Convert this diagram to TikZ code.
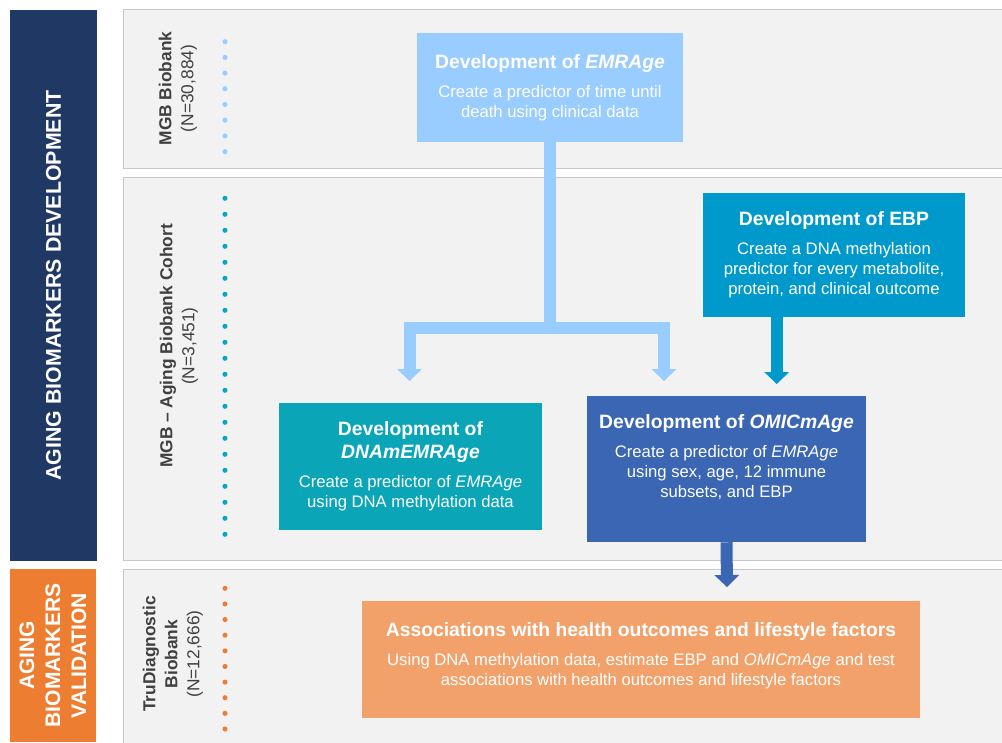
\documentclass[tikz,border=0pt]{standalone}
\usepackage{fontspec}
\setmainfont{Liberation Sans}
\usetikzlibrary{arrows.meta}

\definecolor{navyband}{HTML}{203864}
\definecolor{orangeband}{HTML}{ED7D31}
\definecolor{panelgray}{HTML}{F2F2F2}
\definecolor{panelline}{HTML}{C8C8C8}
\definecolor{emrblue}{HTML}{99CCFF}
\definecolor{ebpblue}{HTML}{0099CC}
\definecolor{dnamteal}{HTML}{0AA6B8}
\definecolor{omicblue}{HTML}{3A66B3}
\definecolor{assocorange}{HTML}{F2A16B}
\definecolor{labelgray}{HTML}{404040}

\newcommand{\titlef}{\fontsize{14.5}{17}\selectfont\bfseries}

\begin{document}
\begin{tikzpicture}[x=0.75pt,y=-0.75pt,
  stage/.style={rectangle,text=white,align=center,inner sep=0pt,
    font=\fontsize{12.5}{15}\selectfont},
  band/.style={rectangle,rotate=90,text=white,align=center,inner sep=0pt,
    font=\fontsize{16}{19.5}\selectfont\bfseries},
  panel/.style={fill=panelgray,draw=panelline,line width=0.75pt},
  cohort/.style={rotate=90,align=center,inner sep=0pt,text=labelgray,
    font=\fontsize{13}{16.5}\selectfont},
  flow/.style={line width=9pt,-{Triangle[length=9pt,width=18.75pt,line width=0pt]}}]
\fill[white] (0,0) rectangle (1002,742);
\useasboundingbox (0,0) rectangle (1002,742);
% grey panels, one per cohort
\draw[panel] (123,10) rectangle (1010,168);
\draw[panel] (123,177) rectangle (1010,560);
\draw[panel] (123,569) rectangle (1010,750);
% ---- left bands ----
\node[band,fill=navyband,minimum width=413.25pt,minimum height=65.25pt]
  (devband) at (53.5,285.5) {AGING BIOMARKERS DEVELOPMENT};
\node[band,fill=orangeband,minimum width=129.75pt,minimum height=64.5pt,
  font=\fontsize{15.75}{19.5}\selectfont\bfseries]
  (valband) at (53,655.5) {AGING\\BIOMARKERS\\VALIDATION};
% ---- cohort labels and dotted separators ----
\node[cohort] (mgb) at (178,88.5) {\textbf{MGB Biobank}\\(N=30,884)};
\node[cohort] (aging) at (179,346) {\textbf{MGB – Aging Biobank Cohort}\\(N=3,451)};
\node[cohort] (tru) at (173,654) {\textbf{TruDiagnostic}\\\textbf{Biobank}\\(N=12,666)};
\foreach \i in {0,...,7}
  \fill[emrblue] (225,{41.7+\i*15.7}) circle (1.9pt);
\foreach \i in {0,...,21}
  \fill[dnamteal] (225,{198.3+\i*16}) circle (1.9pt);
\foreach \i in {0,...,9}
  \fill[orangeband] (225,{588.3+\i*15.63}) circle (1.9pt);
% ---- development boxes ----
\node[stage,fill=emrblue,minimum width=199.5pt,minimum height=81.75pt]
  (emr) at (550,87.5)
  {{\titlef Development of \textit{EMRAge}}\\[7pt]Create a predictor of time until\\death using clinical data};
\node[stage,fill=ebpblue,minimum width=196.5pt,minimum height=93pt]
  (ebp) at (834,255)
  {{\titlef Development of EBP}\\[7pt]Create a DNA methylation\\predictor for every metabolite,\\protein, and clinical outcome};
\node[stage,fill=dnamteal,minimum width=197.25pt,minimum height=95.25pt]
  (dnam) at (410.5,466.5)
  {{\titlef Development of}\\[2pt]{\titlef\itshape DNAmEMRAge}\\[7pt]Create a predictor of \textit{EMRAge}\\using DNA methylation data};
\node[stage,fill=omicblue,minimum width=209.25pt,minimum height=109.5pt,text depth=20pt]
  (omic) at (726.5,469)
  {{\titlef Development of \textit{OMICmAge}}\\[7pt]Create a predictor of \textit{EMRAge}\\using sex, age, 12 immune\\subsets, and EBP};
% ---- validation box ----
\node[stage,fill=assocorange,minimum width=418.5pt,minimum height=87.75pt,text depth=8pt]
  (assoc) at (641,659.5)
  {{\titlef Associations with health outcomes and lifestyle factors}\\[7pt]Using DNA methylation data, estimate EBP and \textit{OMICmAge} and test\\associations with health outcomes and lifestyle factors};
% ---- arrows ----
\coordinate (split) at (550,328);
\coordinate (dnamin) at (409.5,381);
\coordinate (omicin) at (664,381);
\coordinate (ebpin) at (776.7,384);
\coordinate (associn) at (727,587);
\draw[flow,emrblue] (emr.south) -- (split) -| (dnamin);
\draw[flow,emrblue] (split) -| (omicin);
\draw[flow,ebpblue] (ebpin |- ebp.south) -- (ebpin);
\draw[flow,omicblue] (omic.south) -- (associn);
\end{tikzpicture}
\end{document}
